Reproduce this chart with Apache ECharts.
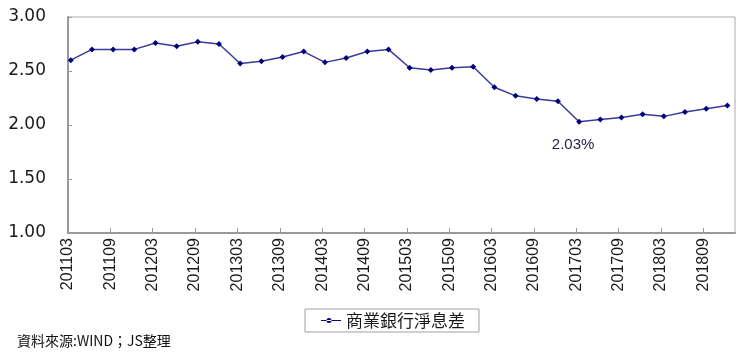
<!DOCTYPE html>
<html>
<head>
<meta charset="utf-8">
<script src="https://cdn.jsdelivr.net/npm/echarts@6/dist/echarts.min.js"></script>
<style>
html,body{margin:0;padding:0;background:#fff;}
#chart{width:743px;height:356px;}
</style>
</head>
<body>
<div id="chart"></div>
<script>
const categories = [
  '201103','201106','201109','201112','201203','201206','201209','201212',
  '201303','201306','201309','201312','201403','201406','201409','201412',
  '201503','201506','201509','201512','201603','201606','201609','201612',
  '201703','201706','201709','201712','201803','201806','201809','201812'
];
const netInterestMargin = [
  2.60, 2.70, 2.70, 2.70, 2.76, 2.73, 2.77, 2.75,
  2.57, 2.59, 2.63, 2.68, 2.58, 2.62, 2.68, 2.70,
  2.53, 2.51, 2.53, 2.54, 2.35, 2.27, 2.24, 2.22,
  2.03, 2.05, 2.07, 2.10, 2.08, 2.12, 2.15, 2.18
];
const yTicks = [1.00, 1.50, 2.00, 2.50, 3.00];
const seriesName = '商業銀行淨息差';
const annotatedIndex = 24;
const annotationText = '2.03%';
const sourceText = '資料來源:WIND；JS整理';

const chart = echarts.init(document.getElementById('chart'), null, {renderer: 'canvas'});
chart.setOption({
  animation: false,
  backgroundColor: '#ffffff',
  grid: {
    left: 68, right: 8, top: 17, bottom: 123,
    show: true, borderColor: '#a9a9a9', borderWidth: 1, backgroundColor: 'transparent'
  },
  xAxis: {
    type: 'value',
    min: -0.13,
    max: 31.36,
    interval: 2,
    axisLine: {show: true, onZero: false, lineStyle: {color: '#999999', width: 2}},
    axisTick: {show: true, inside: true, length: 5, lineStyle: {color: '#999999'}},
    splitLine: {show: false},
    axisLabel: {
      rotate: 90,
      margin: 5,
      showMaxLabel: false,
      showMinLabel: true,
      fontFamily: '"Liberation Sans",Arial,sans-serif',
      fontSize: 16,
      color: '#1a1a1a',
      formatter: function (v) { return categories[Math.round(v)] || ''; }
    }
  },
  yAxis: {
    type: 'value',
    min: yTicks[0], max: yTicks[yTicks.length - 1], interval: 0.5,
    axisLine: {show: true, onZero: false, lineStyle: {color: '#999999', width: 2}},
    axisTick: {show: true, inside: true, length: 4, lineStyle: {color: '#999999'}},
    splitLine: {show: false},
    axisLabel: {
      margin: 22,
      fontFamily: '"DejaVu Sans",Verdana,sans-serif',
      fontSize: 17,
      color: '#1a1a1a',
      formatter: function (v) { return v.toFixed(2); }
    }
  },
  legend: {
    show: true,
    left: 305, top: 309,
    width: 189, height: 24,
    padding: [3, 14, 3, 16],
    borderColor: '#a0a0a0', borderWidth: 1,
    itemWidth: 20, itemHeight: 8, itemGap: 4,
    textStyle: {fontFamily: '"Noto Sans CJK TC","Noto Sans CJK SC",sans-serif', fontSize: 17, color: '#1a1a1a'},
    data: [{name: seriesName, icon: 'path://M0,4 L20,4 L20,5 L0,5 Z M8,4.5 m-2.5,0 a2.5,2.5 0 1,0 5,0 a2.5,2.5 0 1,0 -5,0'}]
  },
  graphic: [{
    type: 'text', left: 17, top: 334,
    style: {text: sourceText, font: '14px "Noto Sans CJK TC","Noto Sans CJK SC",sans-serif', fill: '#111111'}
  }],
  series: [{
    name: seriesName,
    type: 'line',
    data: netInterestMargin.map(function (v, i) {
      const item = {value: [i, v]};
      if (i === annotatedIndex) {
        item.label = {
          show: true, position: 'bottom', offset: [-6, 8],
          formatter: annotationText,
          fontFamily: '"Liberation Sans",Arial,sans-serif', fontSize: 15, color: '#22224a'
        };
      }
      return item;
    }),
    symbol: 'diamond',
    symbolSize: 6,
    showAllSymbol: true,
    itemStyle: {color: '#00007a'},
    lineStyle: {color: '#3a3a9a', width: 1.5},
    label: {show: false}
  }]
});
</script>
</body>
</html>
